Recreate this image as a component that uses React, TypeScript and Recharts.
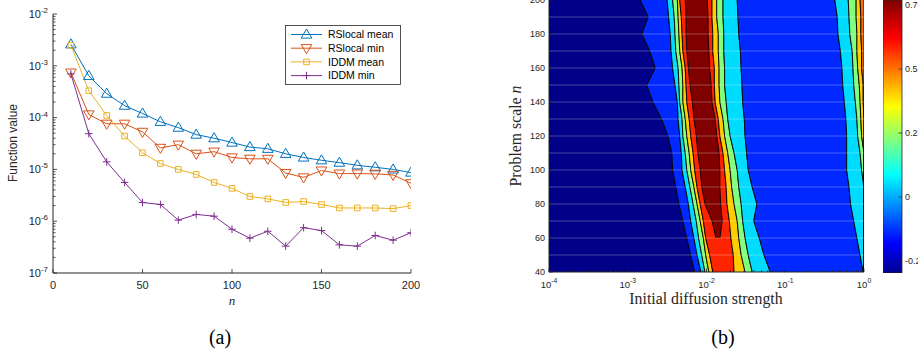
import React from 'react';
import { LineChart, Line, XAxis, YAxis, ComposedChart, Area, Bar, ReferenceLine } from 'recharts';

const sans = '"Liberation Sans", Arial, Helvetica, sans-serif';
const serif = '"Liberation Serif", "Times New Roman", serif';
const ink = '#262626';

// ---- (a) function value vs problem size n ----
const seriesNames = ['RSlocal mean', 'RSlocal min', 'IDDM mean', 'IDDM min'];
const seriesColors = ['#0072BD', '#D95319', '#EDB120', '#7E2F8E'];
const nValues = [10, 20, 30, 40, 50, 60, 70, 80, 90, 100, 110, 120, 130, 140, 150, 160, 170, 180, 190, 200];
const rslocalMean = [2.6e-3, 6.4e-4, 2.9e-4, 1.7e-4, 1.2e-4, 8.3e-5, 6.4e-5, 4.7e-5, 4.0e-5, 3.3e-5, 2.7e-5, 2.5e-5, 2.0e-5, 1.7e-5, 1.5e-5, 1.35e-5, 1.2e-5, 1.1e-5, 1.0e-5, 8.7e-6];
const rslocalMin = [7.4e-4, 1.15e-4, 7.6e-5, 7.6e-5, 5.3e-5, 2.6e-5, 3.0e-5, 2.0e-5, 2.2e-5, 1.7e-5, 1.6e-5, 1.6e-5, 8.5e-6, 7.0e-6, 9.5e-6, 8.3e-6, 8.3e-6, 8.2e-6, 7.8e-6, 5.4e-6];
const iddmMean = [2.5e-3, 3.3e-4, 1.1e-4, 4.4e-5, 2.1e-5, 1.3e-5, 1.0e-5, 8.0e-6, 5.6e-6, 4.3e-6, 3.0e-6, 2.7e-6, 2.3e-6, 2.4e-6, 2.1e-6, 1.8e-6, 1.8e-6, 1.8e-6, 1.75e-6, 2.0e-6];
const iddmMin = [7.0e-4, 4.9e-5, 1.4e-5, 5.6e-6, 2.3e-6, 2.1e-6, 1.05e-6, 1.35e-6, 1.25e-6, 7.0e-7, 4.7e-7, 6.4e-7, 3.3e-7, 7.5e-7, 6.6e-7, 3.5e-7, 3.3e-7, 5.3e-7, 4.3e-7, 6.0e-7];
const nTicks = [0, 50, 100, 150, 200];
const valueTicks = [1e-7, 1e-6, 1e-5, 1e-4, 1e-3, 1e-2];

// ---- (b) contour map: log10(diffusion strength) of each contour edge, per problem scale ----
const scaleN = [40, 50, 60, 70, 80, 90, 100, 110, 120, 130, 140, 150, 160, 170, 180, 190, 200];
const edgeNavyBlue = [-2.15, -2.2, -2.25, -2.3, -2.35, -2.39, -2.43, -2.44, -2.49, -2.57, -2.68, -2.76, -2.65, -2.72, -2.82, -2.74, -2.84];
const edgeBlueCyan = [-2.07, -2.12, -2.16, -2.2, -2.23, -2.27, -2.31, -2.32, -2.34, -2.36, -2.37, -2.4, -2.43, -2.45, -2.46, -2.48, -2.5];
const edgeCyanGreen = [-2.02, -2.06, -2.1, -2.13, -2.17, -2.21, -2.25, -2.27, -2.3, -2.31, -2.34, -2.35, -2.36, -2.39, -2.4, -2.41, -2.43];
const edgeGreenYellow = [-1.97, -2.01, -2.04, -2.08, -2.12, -2.16, -2.2, -2.22, -2.25, -2.27, -2.3, -2.3, -2.31, -2.34, -2.35, -2.36, -2.37];
const edgeYellowRed = [-1.92, -1.96, -2.01, -2.04, -2.08, -2.12, -2.15, -2.17, -2.2, -2.22, -2.25, -2.26, -2.27, -2.3, -2.31, -2.32, -2.34];
const edgeCoreLeft = [null, null, -1.88, -1.93, -2.02, -2.06, -2.08, -2.11, -2.13, -2.16, -2.18, -2.21, -2.23, -2.25, -2.26, -2.26, -2.27];
const edgeCoreRight = [null, null, -1.83, -1.8, -1.82, -1.83, -1.83, -1.84, -1.87, -1.89, -1.93, -1.94, -1.96, -1.97, -1.98, -1.98, -1.99];
const edgeRedYellow = [-1.65, -1.66, -1.69, -1.71, -1.74, -1.75, -1.77, -1.79, -1.83, -1.85, -1.89, -1.9, -1.9, -1.92, -1.92, -1.93, -1.93];
const edgeYellowGreen = [-1.51, -1.56, -1.59, -1.61, -1.65, -1.68, -1.7, -1.73, -1.77, -1.79, -1.83, -1.84, -1.84, -1.85, -1.85, -1.87, -1.87];
const edgeGreenCyan = [-1.42, -1.47, -1.51, -1.54, -1.56, -1.59, -1.61, -1.65, -1.7, -1.73, -1.75, -1.77, -1.77, -1.78, -1.78, -1.79, -1.79];
const edgeCyanBlue = [-1.19, -1.27, -1.33, -1.4, -1.36, -1.42, -1.47, -1.49, -1.51, -1.52, -1.54, -1.55, -1.56, -1.57, -1.59, -1.6, -1.61];
const edgeBlueCyanR = [-0.01, -0.05, -0.09, -0.13, -0.17, -0.19, -0.22, -0.22, -0.22, -0.23, -0.25, -0.27, -0.28, -0.3, -0.33, -0.34, -0.37];
const edgeCyanGreenR = [0, 0, 0, 0, 0, 0, -0.03, -0.05, -0.08, -0.09, -0.11, -0.13, -0.14, -0.15, -0.18, -0.19, -0.2];
const edgeGreenYellowR = [0, 0, 0, 0, 0, 0, 0, 0, -0.03, -0.04, -0.05, -0.06, -0.08, -0.09, -0.09, -0.1, -0.1];
const edgeYellowOrangeR = [0, 0, 0, 0, 0, 0, 0, 0, 0, 0, -0.01, -0.01, -0.03, -0.03, -0.04, -0.04, -0.05];
const scaleTicks = [40, 60, 80, 100, 120, 140, 160, 180, 200];
const gridN = [50, 60, 70, 80, 90, 100, 110, 120, 130, 140, 150, 160, 170, 180, 190];
const strengthTicks = [-4, -3, -2, -1, 0]; // log10 of the strength
const colorTicks = [-0.25, 0, 0.25, 0.5, 0.75];
const colorRange = [-0.297, 0.77];

const minorK = [2, 3, 4, 5, 6, 7, 8, 9];
const valueMinor = valueTicks.slice(0, -1).flatMap((d) => minorK.map((k) => k * d));
const strengthMinor = strengthTicks.slice(0, -1).flatMap((d) => minorK.map((k) => d + Math.log10(k)));

const lineData = nValues.map((n, i) => ({
  n,
  rsMean: rslocalMean[i],
  rsMin: rslocalMin[i],
  idMean: iddmMean[i],
  idMin: iddmMin[i],
}));

const bands = [
  { key: 'navy', color: '#000088' },
  { key: 'blue', color: '#0028ff' },
  { key: 'cyan', color: '#00dcff' },
  { key: 'green', color: '#82ff7c' },
  { key: 'yellow', color: '#ffcc00' },
  { key: 'red', color: '#ff2400' },
  { key: 'core', color: '#800000' },
  { key: 'yellow2', color: '#ffcc00' },
  { key: 'green2', color: '#82ff7c' },
  { key: 'cyan2', color: '#00dcff' },
  { key: 'blue2', color: '#0028ff' },
  { key: 'cyan3', color: '#00dcff' },
  { key: 'green3', color: '#82ff7c' },
  { key: 'yellow3', color: '#ffcc00' },
  { key: 'orange', color: '#ff6a00' },
];

const contourRows = scaleN.map((n, i) => ({
  n,
  navy: [-4, edgeNavyBlue[i]],
  blue: [edgeNavyBlue[i], edgeBlueCyan[i]],
  cyan: [edgeBlueCyan[i], edgeCyanGreen[i]],
  green: [edgeCyanGreen[i], edgeGreenYellow[i]],
  yellow: [edgeGreenYellow[i], edgeYellowRed[i]],
  red: [edgeYellowRed[i], edgeRedYellow[i]],
  core: [edgeCoreLeft[i], edgeCoreRight[i]],
  yellow2: [edgeRedYellow[i], edgeYellowGreen[i]],
  green2: [edgeYellowGreen[i], edgeGreenCyan[i]],
  cyan2: [edgeGreenCyan[i], edgeCyanBlue[i]],
  blue2: [edgeCyanBlue[i], edgeBlueCyanR[i]],
  cyan3: [edgeBlueCyanR[i], edgeCyanGreenR[i]],
  green3: [edgeCyanGreenR[i], edgeGreenYellowR[i]],
  yellow3: [edgeGreenYellowR[i], edgeYellowOrangeR[i]],
  orange: [edgeYellowOrangeR[i], 0],
}));

const colorbarData = [{ c: 'cb', range: colorRange }];

// ---- tick helpers (MATLAB style: inward ticks) ----
type Side = 'left' | 'right' | 'top' | 'bottom';

function powLabel(exp: number, size: number) {
  return (
    <>
      10<tspan dy={-size * 0.45} fontSize={size * 0.72}>{exp}</tspan>
    </>
  );
}

function makeTick(side: Side, majors: number[], gap: number, len: number, minorLen: number, size: number, label?: (v: number) => React.ReactNode) {
  return (props: any) => {
    const { x, y, payload, index } = props;
    const v = payload.value as number;
    const major = majors.includes(v);
    const l = major ? len : minorLen;
    let line: React.ReactNode;
    let text: React.ReactNode = null;
    const tp = { fontSize: size, fontFamily: sans, fill: ink };
    if (side === 'left') {
      const ax = x + gap;
      line = <line x1={ax} x2={ax + l} y1={y} y2={y} />;
      if (label && major) text = <text x={x} y={y} dy="0.35em" textAnchor="end" {...tp}>{label(v)}</text>;
    } else if (side === 'right') {
      const ax = x - gap;
      line = <line x1={ax} x2={ax - l} y1={y} y2={y} />;
      if (label && major) text = <text x={x} y={y} dy="0.35em" textAnchor="start" {...tp}>{label(v)}</text>;
    } else if (side === 'bottom') {
      const ax = y - gap;
      line = <line x1={x} x2={x} y1={ax} y2={ax - l} />;
      if (label && major) text = <text x={x} y={y} dy="0.71em" textAnchor="middle" {...tp}>{label(v)}</text>;
    } else {
      const ax = y + gap;
      line = <line x1={x} x2={x} y1={ax} y2={ax + l} />;
    }
    return (
      <g key={`t-${side}-${index}`}>
        <g stroke={ink} strokeWidth={0.8}>{line}</g>
        {text}
      </g>
    );
  };
}

const tickLeftA = makeTick('left', valueTicks, 5, 4, 2.5, 11, (v) => powLabel(Math.round(Math.log10(v)), 11));
const tickRightA = makeTick('right', valueTicks, 0, 4, 2.5, 11);
const tickBottomA = makeTick('bottom', nTicks, 8, 4, 4, 11, (v) => String(v));
const tickTopA = makeTick('top', nTicks, 0, 4, 4, 11);

const tickLeftB = makeTick('left', scaleTicks, 4, 3.5, 3.5, 9, (v) => String(v));
const tickRightB = makeTick('right', scaleTicks, 0, 3.5, 3.5, 9);
const tickBottomB = makeTick('bottom', strengthTicks, 9, 3.5, 2, 9.5, (v) => powLabel(v, 9.5));
const tickTopB = makeTick('top', strengthTicks, 0, 3.5, 2, 9.5);
const tickColorbar = makeTick('right', colorTicks, 3, 3.5, 3.5, 9, (v) => String(v));

// ---- markers ----
type Marker = 'up' | 'down' | 'square' | 'plus';
const seriesMarkers: Marker[] = ['up', 'down', 'square', 'plus'];

function markerPath(kind: Marker, cx: number, cy: number) {
  if (kind === 'up') return `M${cx} ${cy - 5.5}L${cx + 5.3} ${cy + 3.6}L${cx - 5.3} ${cy + 3.6}Z`;
  if (kind === 'down') return `M${cx} ${cy + 5.5}L${cx + 5.3} ${cy - 3.6}L${cx - 5.3} ${cy - 3.6}Z`;
  if (kind === 'square') return `M${cx - 2.8} ${cy - 2.8}h5.6v5.6h-5.6Z`;
  return `M${cx - 3.8} ${cy}h7.6M${cx} ${cy - 3.8}v7.6`;
}

function makeDot(kind: Marker, color: string) {
  return (p: any) => {
    if (p.cx == null || p.cy == null) return <g key={`e-${p.index}`} />;
    return <path key={`m-${kind}-${p.index}`} d={markerPath(kind, p.cx, p.cy)} fill="none" stroke={color} strokeWidth={1} />;
  };
}

const seriesKeys = ['rsMean', 'rsMin', 'idMean', 'idMin'];

function LegendBox() {
  return (
    <svg width={116} height={60} style={{ position: 'absolute', left: 285, top: 25 }}>
      <rect x={0.5} y={0.5} width={115} height={59} fill="#fff" stroke={ink} strokeWidth={0.8} />
      {seriesNames.map((name, i) => {
        const cy = 9.5 + i * 13.7;
        return (
          <g key={name}>
            <line x1={6} x2={37} y1={cy} y2={cy} stroke={seriesColors[i]} strokeWidth={1} />
            <path d={markerPath(seriesMarkers[i], 21.5, cy)} fill="none" stroke={seriesColors[i]} strokeWidth={1} />
            <text x={43} y={cy} dy="0.36em" fontSize={10.5} fontFamily={sans} fill="#000">{name}</text>
          </g>
        );
      })}
    </svg>
  );
}

const abs = (left: number, top: number): React.CSSProperties => ({ position: 'absolute', left, top });

export default function App() {
  return (
    <div style={{ position: 'absolute', left: 0, top: 0, width: 918, height: 354, background: '#fff', overflow: 'hidden' }}>
      {/* (a) */}
      <div style={abs(0, 0)}>
        <LineChart width={430} height={320} data={lineData} margin={{ top: 14, right: 19, bottom: 17, left: 0 }}>
          {seriesKeys.map((k, i) => (
            <Line
              key={k}
              dataKey={k}
              stroke={seriesColors[i]}
              strokeWidth={1}
              dot={makeDot(seriesMarkers[i], seriesColors[i])}
              activeDot={false}
              isAnimationActive={false}
            />
          ))}
          <XAxis dataKey="n" type="number" domain={[0, 200]} ticks={nTicks} interval={0} allowDataOverflow height={30}
            stroke={ink} tickLine={false} tickSize={0} tickMargin={8} tick={tickBottomA} />
          <XAxis xAxisId="top" orientation="top" type="number" domain={[0, 200]} ticks={nTicks} interval={0} allowDataOverflow height={0}
            stroke={ink} tickLine={false} tickSize={0} tickMargin={0} tick={tickTopA} />
          <YAxis type="number" scale="log" domain={[1e-7, 1e-2]} ticks={[...valueTicks, ...valueMinor]} interval={0} allowDataOverflow width={53}
            stroke={ink} tickLine={false} tickSize={0} tickMargin={5} tick={tickLeftA} />
          <YAxis yAxisId="right" orientation="right" type="number" scale="log" domain={[1e-7, 1e-2]} ticks={[...valueTicks, ...valueMinor]} interval={0} allowDataOverflow width={0}
            stroke={ink} tickLine={false} tickSize={0} tickMargin={0} tick={tickRightA} />
        </LineChart>
      </div>
      <LegendBox />
      <div style={{ ...abs(13 - 60, 143 - 8), width: 120, height: 16, lineHeight: '16px', textAlign: 'center', transform: 'rotate(-90deg)', fontFamily: sans, fontSize: 12, color: ink }}>
        Function value
      </div>
      <div style={{ ...abs(222, 293), width: 20, textAlign: 'center', fontFamily: serif, fontStyle: 'italic', fontSize: 13, lineHeight: '16px', color: ink }}>n</div>
      <div style={{ ...abs(190, 324), width: 60, textAlign: 'center', fontFamily: serif, fontSize: 20, lineHeight: '26px', color: '#000' }}>(a)</div>

      {/* (b) */}
      <div style={abs(470, 0)}>
        <ComposedChart layout="vertical" width={410} height={320} data={contourRows} margin={{ top: 0, right: 16, bottom: 18, left: 39 }}>
          {bands.map((b) => (
            <Area
              key={b.key}
              dataKey={b.key}
              type="linear"
              fill={b.color}
              fillOpacity={1}
              stroke="#000"
              strokeWidth={0.9}
              dot={false}
              activeDot={false}
              isAnimationActive={false}
            />
          ))}
          {gridN.map((n) => (
            <ReferenceLine key={n} y={n} stroke="#ffffff" strokeOpacity={0.28} strokeWidth={1} />
          ))}
          <XAxis type="number" domain={[-4, 0]} ticks={[...strengthTicks, ...strengthMinor]} interval={0} allowDataOverflow height={30}
            stroke={ink} tickLine={false} tickSize={0} tickMargin={9} tick={tickBottomB} />
          <XAxis xAxisId="top" orientation="top" type="number" domain={[-4, 0]} ticks={[...strengthTicks, ...strengthMinor]} interval={0} allowDataOverflow height={0}
            stroke={ink} tickLine={false} tickSize={0} tickMargin={0} tick={tickTopB} />
          <YAxis type="number" dataKey="n" reversed domain={[40, 200]} ticks={scaleTicks} interval={0} allowDataOverflow width={40}
            stroke={ink} tickLine={false} tickSize={0} tickMargin={4} tick={tickLeftB} />
          <YAxis yAxisId="right" orientation="right" type="number" reversed domain={[40, 200]} ticks={scaleTicks} interval={0} allowDataOverflow width={0}
            stroke={ink} tickLine={false} tickSize={0} tickMargin={0} tick={tickRightB} />
        </ComposedChart>
      </div>
      <div style={{ ...abs(516 - 70, 136 - 10), width: 140, height: 20, lineHeight: '20px', textAlign: 'center', transform: 'rotate(-90deg)', fontFamily: serif, fontSize: 15.8, color: ink }}>
        Problem scale <i>n</i>
      </div>
      <div style={{ ...abs(606, 289), width: 200, textAlign: 'center', fontFamily: serif, fontSize: 15.8, lineHeight: '20px', color: ink }}>
        Initial diffusion strength
      </div>
      <div style={{ ...abs(693, 324), width: 60, textAlign: 'center', fontFamily: serif, fontSize: 20, lineHeight: '26px', color: '#000' }}>(b)</div>

      {/* colorbar */}
      <div style={abs(883, 0)}>
        <ComposedChart width={35} height={280} data={colorbarData} margin={{ top: 0, right: 0, bottom: 7, left: 0 }} barCategoryGap={0}>
          <defs>
            <linearGradient id="jet" x1="0" y1="1" x2="0" y2="0">
              <stop offset="0" stopColor="#00008f" />
              <stop offset="0.11" stopColor="#0000ff" />
              <stop offset="0.36" stopColor="#00ffff" />
              <stop offset="0.61" stopColor="#ffff00" />
              <stop offset="0.86" stopColor="#ff0000" />
              <stop offset="1" stopColor="#800000" />
            </linearGradient>
          </defs>
          <XAxis dataKey="c" hide />
          <Bar dataKey="range" fill="url(#jet)" stroke={ink} strokeWidth={0.8} isAnimationActive={false} />
          <YAxis orientation="right" type="number" domain={colorRange} ticks={colorTicks} interval={0} allowDataOverflow width={16}
            axisLine={false} tickLine={false} tickSize={0} tickMargin={3} tick={tickColorbar} />
        </ComposedChart>
      </div>
    </div>
  );
}
